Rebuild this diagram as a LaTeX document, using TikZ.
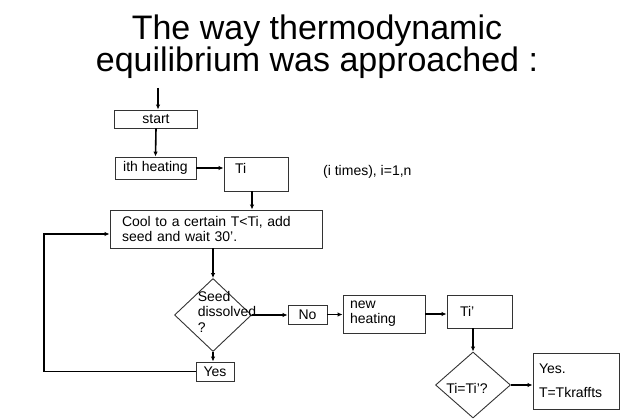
\documentclass[tikz,border=0pt]{standalone}
\usepackage{fontspec}
\setmainfont{Liberation Sans}
\usetikzlibrary{arrows.meta,shapes.geometric}

\begin{document}
\begin{tikzpicture}[x=1pt,y=-1pt,>=Latex,
  box/.style={draw=black!80,line width=0.9pt,inner sep=0pt,font=\fontsize{14}{15}\selectfont},
  lbox/.style={box,align=left},
  dia/.style={draw=black!80,line width=0.9pt,diamond,inner sep=0pt},
  arr/.style={->,line width=1.1pt,>={Latex[length=5pt,width=4.5pt]}},
  txt/.style={font=\fontsize{14}{15.5}\selectfont,align=left}]
\useasboundingbox (0,0) rectangle (620,419);
\node[font=\fontsize{34}{32}\selectfont,align=center,inner sep=0pt,anchor=north] (title) at (317,15) {The way thermodynamic\\equilibrium was approached :};
\coordinate (entry) at (158,88);
\node[box,minimum width=83pt,minimum height=18pt] (start) at (156,119) {start};
\node[box,minimum width=81pt,minimum height=22pt,text height=10pt,text depth=2pt] (ith) at (155.5,168) {ith heating};
\node[box,text width=42pt,inner xsep=11pt,minimum height=34pt,text height=10pt,text depth=10pt] (Ti) at (256,174) {Ti};
\node[txt,inner sep=0pt,anchor=west] (times) at (323,172) {(i times), i=1,n};
\node[lbox,text width=188pt,inner xsep=12pt,minimum height=38pt] (cool) at (216,229) {Cool to a certain T<Ti, add\\seed and wait 30'.};
\node[dia,minimum width=77pt,minimum height=73pt,
  label={[txt,xshift=14pt,yshift=3.5pt]center:Seed\\dissolved\\?}] (d1) at (213,315) {};
\node[box,minimum width=38pt,minimum height=19pt] (yes1) at (215,371.5) {Yes};
\coordinate (back) at (44,371.5);
\node[box,minimum width=39pt,minimum height=19pt] (no) at (307.5,314.5) {No};
\node[lbox,text width=68pt,inner xsep=7pt,minimum height=38pt] (newh) at (384,314) {new\\heating};
\node[lbox,text width=39pt,inner xsep=13pt,minimum height=33pt] (Tip) at (479.5,311.5) {Ti'};
\node[dia,minimum width=75pt,minimum height=66pt,
  label={[txt,xshift=-6pt,yshift=-3pt]center:Ti=Ti'?}] (d2) at (473,385) {};
\node[lbox,text width=74pt,inner xsep=6pt,minimum height=56pt] (res) at (576,381) {Yes.\\[9pt]T=Tkraffts};
% connectors
\draw[arr,line width=1.6pt] (entry) -- (entry |- start.north);
\draw[arr,line width=1.6pt] (start.south) -- (ith.north);
\draw[arr] (ith.east) -- (ith.east -| Ti.west);
\draw[arr] ([xshift=-4pt]Ti.south) -- ([xshift=-4pt]Ti.south |- cool.north);
\draw[arr] (d1.north |- cool.south) -- (d1.north);
\draw[arr] (d1.south) -- (d1.south |- yes1.north);
\draw[arr] (yes1.west) -- (back) |- ([yshift=-5pt]cool.west);
\draw[arr] (d1.east) -- (d1.east -| no.west);
\draw[arr] (no.east) -- (no.east -| newh.west);
\draw[arr] (newh.east) -- (newh.east -| Tip.west);
\draw[arr] (d2.north |- Tip.south) -- (d2.north);
\draw[arr] (d2.east) -- (d2.east -| res.west);
\end{tikzpicture}
\end{document}
